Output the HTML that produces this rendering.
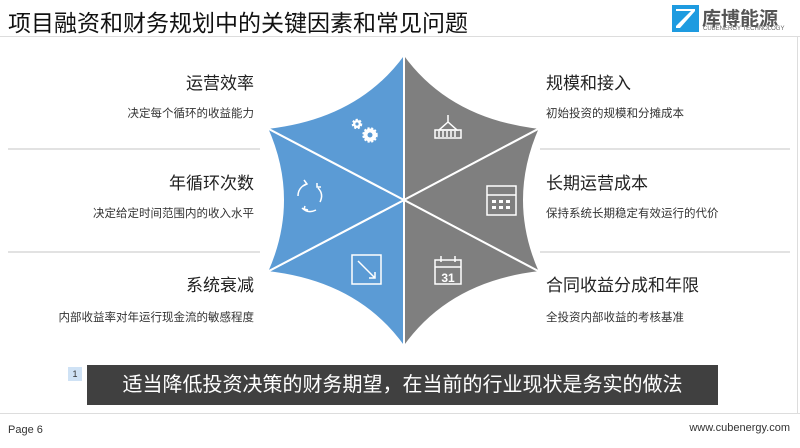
<!DOCTYPE html>
<html><head><meta charset="utf-8"><style>
body{margin:0;width:800px;height:448px;background:#fff;position:relative;overflow:hidden;font-family:"Liberation Sans","Noto Sans CJK SC",sans-serif;}
.a{position:absolute;white-space:nowrap;}
.t{font-size:17px;color:#222;}
.s{font-size:11.5px;color:#333;}
.r{text-align:right;}
</style></head><body>
<div class="a" style="left:8px;top:4px;font-size:23px;color:#111;">项目融资和财务规划中的关键因素和常见问题</div>
<svg class="a" style="left:672px;top:5px" width="27" height="27" viewBox="0 0 27 27"><path d="M0 0H27V27H0Z" fill="#1e9be0"/><path d="M4 4H23V6L8 23H23V23H4V21L19 6H4Z" fill="#fff"/></svg>
<div class="a" style="left:702px;top:4px;font-size:19px;font-weight:bold;color:#555;">库博能源</div>
<div class="a" style="left:703px;top:26px;font-size:6px;color:#666;">CUBENERGY TECHNOLOGY</div>
<div class="a" style="left:0;top:36px;width:800px;height:1px;background:#ddd;"></div>
<div class="a" style="left:797px;top:36px;width:1px;height:377px;background:#ddd;"></div>

<div class="a" style="left:8px;top:148px;width:252px;height:2px;background:#e2e2e2;"></div>
<div class="a" style="left:8px;top:251px;width:252px;height:2px;background:#e2e2e2;"></div>
<div class="a" style="left:540px;top:148px;width:250px;height:2px;background:#e2e2e2;"></div>
<div class="a" style="left:540px;top:251px;width:250px;height:2px;background:#e2e2e2;"></div>

<div class="a t r" style="right:546px;top:69px;">运营效率</div>
<div class="a s r" style="right:546px;top:105px;">决定每个循环的收益能力</div>
<div class="a t r" style="right:546px;top:169px;">年循环次数</div>
<div class="a s r" style="right:546px;top:205px;">决定给定时间范围内的收入水平</div>
<div class="a t r" style="right:546px;top:271px;">系统衰减</div>
<div class="a s r" style="right:546px;top:309px;">内部收益率对年运行现金流的敏感程度</div>

<div class="a t" style="left:546px;top:69px;">规模和接入</div>
<div class="a s" style="left:546px;top:105px;">初始投资的规模和分摊成本</div>
<div class="a t" style="left:546px;top:169px;">长期运营成本</div>
<div class="a s" style="left:546px;top:205px;">保持系统长期稳定有效运行的代价</div>
<div class="a t" style="left:546px;top:271px;">合同收益分成和年限</div>
<div class="a s" style="left:546px;top:309px;">全投资内部收益的考核基准</div>

<svg class="a" style="left:0;top:0" width="800" height="448">
<g stroke="#fff" stroke-width="2" stroke-linejoin="round">
<path d="M404 200L404 54Q450 118 540 128Z" fill="#7f7f7f"/>
<path d="M404 200L540 128Q508 200 540 272Z" fill="#7f7f7f"/>
<path d="M404 200L540 272Q450 282 404 347Z" fill="#7f7f7f"/>
<path d="M404 200L404 347Q358 282 267 272Z" fill="#5b9bd5"/>
<path d="M404 200L267 272Q299 200 267 128Z" fill="#5b9bd5"/>
<path d="M404 200L267 128Q358 118 404 54Z" fill="#5b9bd5"/>
</g>
<g fill="#fff" stroke="#fff" stroke-width="2.5" stroke-dasharray="2 1.5">
<circle cx="357" cy="124" r="4"/><circle cx="370" cy="135" r="6.5"/>
</g>
<circle cx="357" cy="124" r="1.6" fill="#5b9bd5"/><circle cx="370" cy="135" r="2.5" fill="#5b9bd5"/>
<g stroke="#fff" stroke-width="1.5" fill="none">
<path d="M298 196q0-8 8-12M318 188q6 6 2 14M316 210q-8 4-14-2"/>
<path d="M304 180l3 4-4 2M321 187l-4 0 0-4M305 206l-1 3 4 1"/>
<rect x="352" y="255" width="29" height="29"/><path d="M358 261L375 278M369 278h6v-6"/>
<path d="M448 122l-9 8h18zM448 115v7"/><rect x="435" y="130" width="26" height="8"/>
<path d="M439 131v6M443 131v6M447 131v6M451 131v6M455 131v6"/>
<rect x="487" y="186" width="29" height="29"/><path d="M487 195h29"/>
<rect x="435" y="260" width="26" height="24"/><path d="M435 267h26M441 256v6M455 256v6"/>
</g>
<g fill="#fff"><rect x="492" y="200" width="4" height="3"/><rect x="499" y="200" width="4" height="3"/><rect x="506" y="200" width="4" height="3"/><rect x="492" y="206" width="4" height="3"/><rect x="499" y="206" width="4" height="3"/><rect x="506" y="206" width="4" height="3"/></g>
<text x="448" y="282" font-size="12" font-weight="bold" fill="#fff" text-anchor="middle" font-family="Liberation Sans">31</text>
</svg>

<div class="a" style="left:68px;top:367px;width:14px;height:14px;background:#cfe2f5;font-size:9px;color:#333;text-align:center;line-height:14px;">1</div>
<div class="a" style="left:87px;top:365px;width:631px;height:40px;background:#404040;color:#fff;font-size:20px;line-height:40px;text-align:center;">适当降低投资决策的财务期望，在当前的行业现状是务实的做法</div>
<div class="a" style="left:0;top:413px;width:800px;height:1px;background:#ddd;"></div>
<div class="a" style="left:8px;top:424px;font-size:11px;color:#333;">Page 6</div>
<div class="a" style="right:10px;top:422px;font-size:11px;color:#333;">www.cubenergy.com</div>
</body></html>
